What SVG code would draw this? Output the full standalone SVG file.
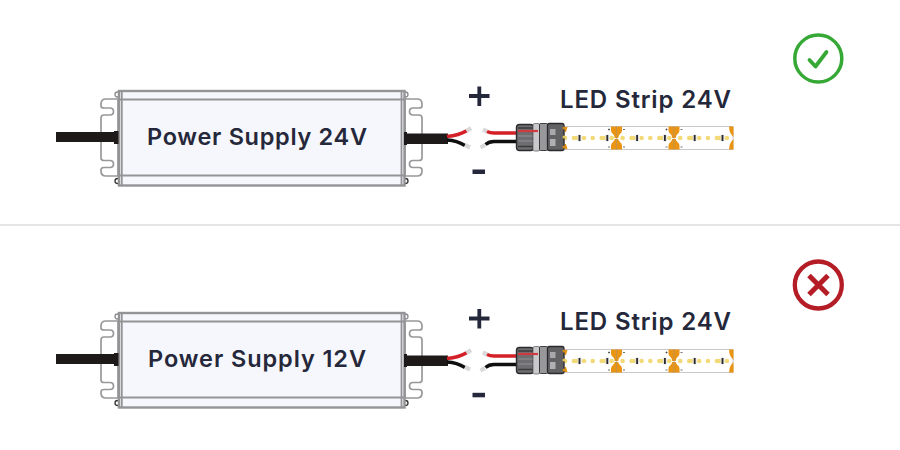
<svg xmlns="http://www.w3.org/2000/svg" xmlns:xlink="http://www.w3.org/1999/xlink" width="900" height="450" viewBox="0 0 900 450">
<style>
text{font-family:Inter,"Liberation Sans",sans-serif;font-weight:600;fill:#25283a}
.psu{font-size:23.5px}
.led{font-size:24px}
.g{fill:none;stroke:#949497;stroke-width:1.800}
.ear{fill:#fff;stroke:#98989b;stroke-width:1.700}
.sg{fill:none;stroke:#25283a;stroke-width:3.800}
.y{fill:#f3da78}
.o{fill:#ea9414}
.d{fill:#2a2a2e}
.tip{stroke:#d8d8d8;stroke-width:4.200;fill:none}
.red{fill:none;stroke:#d42027;stroke-width:3.400}
.blk{fill:none;stroke:#0f0f0f;stroke-width:3.400}
</style>
<defs>
<g id="psu">
<path class="ear" d="M118 99H106Q101 99 101 104V106Q101 108 104 108H110Q113.500 108 113.500 111.500Q113.500 115 110 115H104Q101 115 101 118V158Q101 160.500 104 160.500H110Q113.500 160.500 113.500 164Q113.500 167.500 110 167.500H104Q101 167.500 101 170V171Q101 176 106 176H118Z"/>
<path class="ear" d="M405 99H417Q422 99 422 104V106Q422 108 419 108H413Q409.500 108 409.500 111.500Q409.500 115 413 115H419Q422 115 422 118V158Q422 160.500 419 160.500H413Q409.500 160.500 409.500 164Q409.500 167.500 413 167.500H419Q422 167.500 422 170V171Q422 176 417 176H405Z"/>
<circle cx="117.500" cy="94.500" r="2.500" fill="#fff" stroke="#8c8c8e" stroke-width="1.300"/>
<circle cx="117.500" cy="181" r="2.500" fill="#fff" stroke="#333" stroke-width="1.300"/>
<circle cx="405.500" cy="94.500" r="2.500" fill="#fff" stroke="#8c8c8e" stroke-width="1.300"/>
<circle cx="405.500" cy="181" r="2.500" fill="#fff" stroke="#333" stroke-width="1.300"/>
<rect x="119" y="91" width="285.500" height="94.500" fill="#f6f7fc" stroke="#949497" stroke-width="2.400"/>
<path class="g" d="M119 99.500H404M119 175.500H404M121.800 91V185.500M401.500 91V185.500"/>
<path d="M56 132H114V142H56Z" fill="#1f1a1a"/>
<rect x="114" y="131" width="4.500" height="13" fill="#1f1a1a"/>
<path d="M406 133.500H448V144H406Z" fill="#1f1a1a"/>
<rect x="404" y="132" width="3" height="13" fill="#1f1a1a"/>
<path class="red" d="M447 136.500Q459 135.500 467 130.500"/>
<path class="blk" d="M447 140Q457 140.500 465 145.500"/>
<path class="tip" d="M466.500 131L471 128M465 145L470 147.500"/>
</g>
<g id="seg">
<circle cx="-2" cy="12" r="2.300" class="y"/>
<circle cx="7" cy="12" r="2.300" class="y"/><circle cx="9.300" cy="12" r="2.300" class="y"/>
<rect x="10.600" y="8.500" width="3.800" height="7" rx=".8" fill="#e4e4e4"/><rect x="11.600" y="9" width="1.800" height="6" class="d"/>
<circle cx="17" cy="12" r="2.300" class="y"/><circle cx="25.700" cy="12" r="2.300" class="y"/><circle cx="34.700" cy="12" r="2.300" class="y"/><circle cx="37" cy="12" r="2.300" class="y"/>
<rect x="38.400" y="8.500" width="3.800" height="7" rx=".8" fill="#e4e4e4"/><rect x="39.400" y="9" width="1.800" height="6" class="d"/>
<circle cx="44.700" cy="12" r="2.300" class="y"/>
</g>
<g id="pad">
<path class="o" d="M-5.500 0H5.500V4Q5.500 6 3.500 7.500Q1.800 9 1.800 11.500H-1.800Q-1.800 9-3.500 7.500Q-5.500 6-5.500 4Z"/>
<path class="o" d="M-5.500 23H5.500V19Q5.500 17 3.500 15.500Q1.800 14 1.800 12.500H-1.800Q-1.800 14-3.500 15.500Q-5.500 17-5.500 19Z"/>
<path d="M-8.500 3H-6.500M-7.500 2V4M6.500 3H8.500M-8.500 20.500H-6.500M6.500 20.500H8.500" stroke="#333" stroke-width=".7"/>
</g>
<g id="strip">
<rect x="564" y="126.500" width="169" height="23" fill="#fff" stroke="#c9c9c9"/>
<use xlink:href="#seg" href="#seg" x="567" y="126"/>
<use xlink:href="#seg" href="#seg" x="624.600" y="126"/>
<use xlink:href="#seg" href="#seg" x="682.200" y="126"/>
<use xlink:href="#pad" href="#pad" x="616.500" y="126.500"/>
<use xlink:href="#pad" href="#pad" x="674" y="126.500"/>
<path class="o" d="M729 126.500H733.500V149.500H729Q729 145 731 142L733.500 139V137L731 134Q729 131 729 126.500Z"/>
<path class="o" d="M564.500 127H567.500L566 132H564.500ZM564.500 149H567.500L566 144H564.500Z"/>
<path d="M616.500 126V150M674 126V150" stroke="#a89272" stroke-width=".6"/>
</g>
<g id="conn">
<path class="tip" d="M483 129.500L487 131.500M480.500 147.500L485 145"/>
<path class="red" d="M487 131.500Q490 133 494 133H517"/>
<path class="blk" d="M485.500 144.500Q489 141.500 494 141.500H517"/>
<rect x="516.500" y="124.500" width="17" height="26" rx="3" fill="#6e6e71" stroke="#2b2b2e" stroke-width="1.400"/>
<path d="M518 128H533M518 146.500H533" stroke="#3a3a3d" stroke-width="1.500"/>
<path d="M518 136H533M518 141H533" stroke="#85858a" stroke-width="1.500"/>
<rect x="533" y="123.500" width="6.500" height="27.500" rx="1.500" fill="#c9c9cb" stroke="#55555a" stroke-width=".7"/>
<path d="M518 131H538" stroke="#cf3a40" stroke-width="2.200"/>
<rect x="539.500" y="123.500" width="8" height="27" rx="1" fill="#98989b" stroke="#2f2f32" stroke-width=".9"/>
<rect x="547.500" y="123.500" width="16.500" height="27" rx="2" fill="#626265" stroke="#2a2a2d" stroke-width="1.300"/>
<rect x="550" y="129" width="5.500" height="6" fill="#a8a8aa"/><rect x="550" y="139" width="5.500" height="7" fill="#b0b0b2"/>
<circle cx="564" cy="128" r="1.500" fill="#d08a1c"/><circle cx="564" cy="137" r="1.500" fill="#e3c85c"/><circle cx="564" cy="147" r="1.500" fill="#d08a1c"/>
</g>
</defs>
<rect width="900" height="450" fill="#fff"/>
<g id="connectors">
<line id="divider" x1="0" y1="225" x2="900" y2="225" stroke="#dcdcdc" stroke-width="1.500"/>
</g>
<g id="row1-power-supply"><use xlink:href="#psu" href="#psu"/><text class="psu" x="147" y="145" textLength="220">Power Supply 24V</text></g>
<g id="row1-plus"><path class="sg" d="M469 96H489.500M479.300 86.500V106"/></g>
<g id="row1-minus"><rect x="472.500" y="169.500" width="12.500" height="4.500" fill="#25283a"/></g>
<g id="row1-led-strip"><use xlink:href="#strip" href="#strip"/><use xlink:href="#conn" href="#conn"/><text class="led" x="560" y="108" textLength="171">LED Strip 24V</text></g>
<g id="row1-status">
<circle cx="818.300" cy="58.500" r="23.500" fill="none" stroke="#35a835" stroke-width="3.500"/>
<path d="M809.500 60L815.500 66.500L826.500 52" fill="none" stroke="#35a835" stroke-width="3.800" stroke-linecap="round" stroke-linejoin="round"/>
</g>
<g id="row2-power-supply" transform="translate(0 222)"><use xlink:href="#psu" href="#psu"/><text class="psu" x="148" y="145" textLength="218">Power Supply 12V</text></g>
<g id="row2-plus" transform="translate(0 222.500)"><path class="sg" d="M469 96H489.500M479.300 86.500V106"/></g>
<g id="row2-minus" transform="translate(0 223.300)"><rect x="472.500" y="169.500" width="12.500" height="4.500" fill="#25283a"/></g>
<g id="row2-led-strip" transform="translate(0 223)"><use xlink:href="#strip" href="#strip"/><use xlink:href="#conn" href="#conn"/><text class="led" x="560" y="107" textLength="171">LED Strip 24V</text></g>
<g id="row2-status">
<circle cx="818.300" cy="285" r="23.500" fill="none" stroke="#b41c26" stroke-width="4.300"/>
<path d="M809 275.500L828 294.500M828 275.500L809 294.500" fill="none" stroke="#b41c26" stroke-width="5"/>
</g>
</svg>
